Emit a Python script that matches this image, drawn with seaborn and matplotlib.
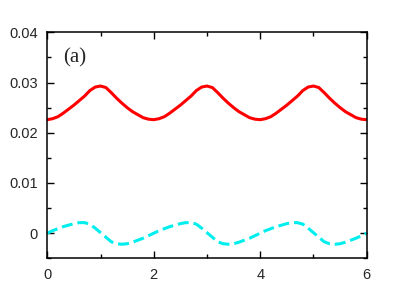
import numpy as np
import pandas as pd
import matplotlib
matplotlib.use("Agg")
import matplotlib.pyplot as plt
import seaborn as sns
from matplotlib.ticker import MultipleLocator

# sample positions along x (step 0.1)
x = np.linspace(0, 6, 61)

# solid red curve
red = [0.0226, 0.0228, 0.0232, 0.0239, 0.0247, 0.0255, 0.0264, 0.0273, 0.0284, 0.0291,
       0.0293, 0.0290, 0.0280, 0.0269, 0.0259, 0.0250, 0.0242, 0.0236, 0.0230, 0.0227,
       0.0226, 0.0228, 0.0232, 0.0239, 0.0247, 0.0255, 0.0264, 0.0273, 0.0284, 0.0291,
       0.0293, 0.0290, 0.0280, 0.0269, 0.0259, 0.0250, 0.0242, 0.0236, 0.0230, 0.0227,
       0.0226, 0.0228, 0.0232, 0.0239, 0.0247, 0.0255, 0.0264, 0.0273, 0.0284, 0.0291,
       0.0293, 0.0290, 0.0280, 0.0269, 0.0259, 0.0250, 0.0242, 0.0236, 0.0230, 0.0227,
       0.0226]

# dashed cyan curve
cyan = [0.0000, 0.0005, 0.0009, 0.0013, 0.0016, 0.0019, 0.0021, 0.0021, 0.0018, 0.0010,
        0.0001, -0.0008, -0.0017, -0.0021, -0.0022, -0.0021, -0.0018, -0.0014, -0.0010, -0.0005,
        0.0000, 0.0005, 0.0009, 0.0013, 0.0016, 0.0019, 0.0021, 0.0021, 0.0018, 0.0010,
        0.0001, -0.0008, -0.0017, -0.0021, -0.0022, -0.0021, -0.0018, -0.0014, -0.0010, -0.0005,
        0.0000, 0.0005, 0.0009, 0.0013, 0.0016, 0.0019, 0.0021, 0.0021, 0.0018, 0.0010,
        0.0001, -0.0008, -0.0017, -0.0021, -0.0022, -0.0021, -0.0018, -0.0014, -0.0010, -0.0005,
        0.0000]

xticks = [0, 2, 4, 6]
xtick_labels = ["0", "2", "4", "6"]
yticks = [0, 0.01, 0.02, 0.03, 0.04]
ytick_labels = ["0", "0.01", "0.02", "0.03", "0.04"]
panel_label = "(a)"

sns.set_style("ticks")
plt.rcParams['font.family'] = ['Liberation Sans', 'DejaVu Sans']

df = pd.DataFrame({"x": x, "red": red, "cyan": cyan})

fig = plt.figure(figsize=(4.15, 2.91), dpi=100)
ax = fig.add_axes([0.114, 0.1124, 0.7696, 0.7766])

sns.lineplot(data=df, x="x", y="red", ax=ax, color="#ff0000", linewidth=2.2)
sns.lineplot(data=df, x="x", y="cyan", ax=ax, color="#00eeee", linewidth=2.2,
             dashes=False)
ax.lines[-1].set_dashes((3.6, 1.6))

ax.set_xlim(0, 6)
ax.set_ylim(-0.005, 0.04)
ax.set_xticks(xticks)
ax.set_xticklabels(xtick_labels)
ax.set_yticks(yticks)
ax.set_yticklabels(ytick_labels)
ax.xaxis.set_minor_locator(MultipleLocator(1))
ax.yaxis.set_minor_locator(MultipleLocator(0.005))
ax.tick_params(which="both", direction="in", top=True, right=True,
               width=1, color="black", labelsize=10.5, pad=7)
ax.tick_params(which="major", length=5)
ax.tick_params(which="minor", length=3)
for s in ax.spines.values():
    s.set_linewidth(1.1)
    s.set_color("black")
ax.set_xlabel("")
ax.set_ylabel("")

ax.text(0.29, 0.035, panel_label, fontsize=15, family=['Liberation Serif'],
        va="center", ha="left")

fig.savefig("out.png", dpi=100)
